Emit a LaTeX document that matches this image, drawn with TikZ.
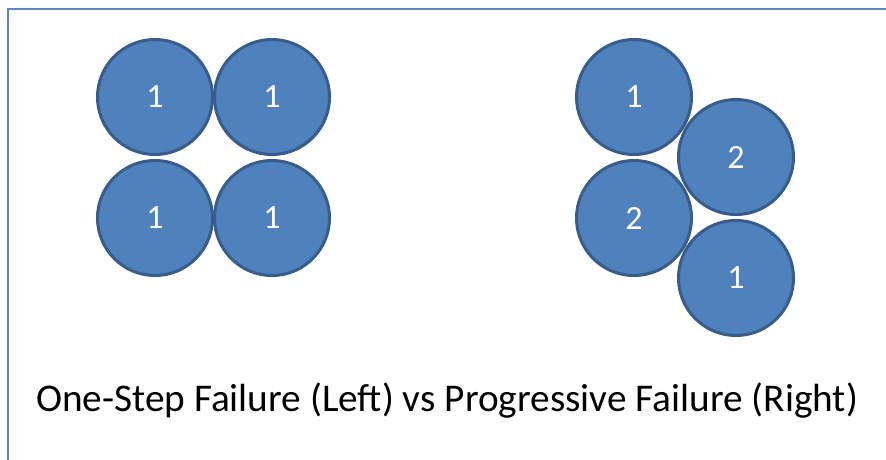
\documentclass[tikz,border=0pt]{standalone}
\usepackage{fontspec}
\setmainfont{Carlito}
\definecolor{ofill}{HTML}{4F81BD}
\definecolor{oline}{HTML}{385D8A}
\definecolor{frame}{HTML}{5B87C5}
\begin{document}
\begin{tikzpicture}[x=1pt,y=-1pt,
  ball/.style={circle,draw=oline,line width=3pt,fill=ofill,minimum size=115pt,inner sep=0pt,text=white,font=\fontsize{34}{36}\selectfont}]
\useasboundingbox (0,0) rectangle (886,459);
\fill[white] (0,0) rectangle (886,459);
\draw[frame,line width=2pt] (8,470) -- (8,9) -- (900,9);
% left group
\node[ball] (l1) at (155,97) {1};
\node[ball] (l2) at (272,97) {1};
\node[ball] (l3) at (155,218) {1};
\node[ball] (l4) at (272,218) {1};
% right group
\node[ball] (r1) at (634,97) {1};
\node[ball] (r2) at (736,157) {2};
\node[ball] (r3) at (634,218) {2};
\node[ball] (r4) at (736,278) {1};
\node[anchor=base,font=\fontsize{39.3}{42}\selectfont] (cap) at (447,411) {One-Step Failure (Left) vs Progressive Failure (Right)};
\end{tikzpicture}
\end{document}
